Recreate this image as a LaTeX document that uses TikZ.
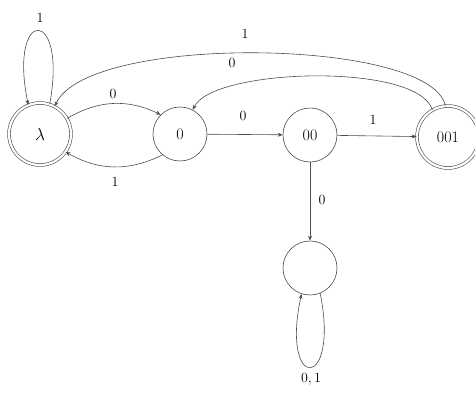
\documentclass[tikz,border=0pt]{standalone}
\usetikzlibrary{arrows.meta}
\begin{document}
\begin{tikzpicture}[x=1pt,y=-1pt,
  st/.style={circle,draw=black!70,line width=0.6pt,minimum size=54pt,inner sep=0pt,font=\fontsize{16}{18}\selectfont},
  acc/.style={st,double=white,double distance=2.2pt,minimum size=62pt},
  tr/.style={draw=black!70,line width=0.6pt,-{Stealth[length=5pt,width=4pt]}},
  lab/.style={font=\fontsize{14}{16}\selectfont,inner sep=1pt}]
\useasboundingbox (0,0) rectangle (475,394);
\node[acc] (lam) at (40,134) {$\lambda$};
\node[st] (z) at (180,134) {0};
\node[st] (zz) at (310,135) {00};
\node[acc] (zzo) at (448,137) {001};
\node[st] (d) at (310,268) {};
% loops
\draw[tr] (lam.72) .. controls (68,6) and (8,6) .. (lam.112);
\node[lab] (l1) at (40,18) {1};
\draw[tr] (d.-68) .. controls (340,392) and (280,392) .. (d.-108);
\node[lab] (l2) at (311,379) {0,\,1};
% lambda <-> 0
\draw[tr] (lam.30) to[bend left=28] (z.135);
\node[lab] (l3) at (113,94) {0};
\draw[tr] (z.-130) to[bend left=28] (lam.-35);
\node[lab] (l4) at (115,182) {1};
% straight
\draw[tr] (z) -- (zz);
\node[lab] (l5) at (243,116) {0};
\draw[tr] (zz) -- (zzo);
\node[lab] (l6) at (373,120) {1};
\draw[tr] (zz) -- (d);
\node[lab] (l7) at (322,200) {0};
% back edges
\draw[tr] (zzo.95) .. controls (432,38) and (88,33) .. (lam.62);
\node[lab] (l8) at (245,34) {1};
\draw[tr] (zzo.120) .. controls (418,62) and (212,68) .. (z.62);
\node[lab] (l9) at (232,63) {0};
\end{tikzpicture}
\end{document}
